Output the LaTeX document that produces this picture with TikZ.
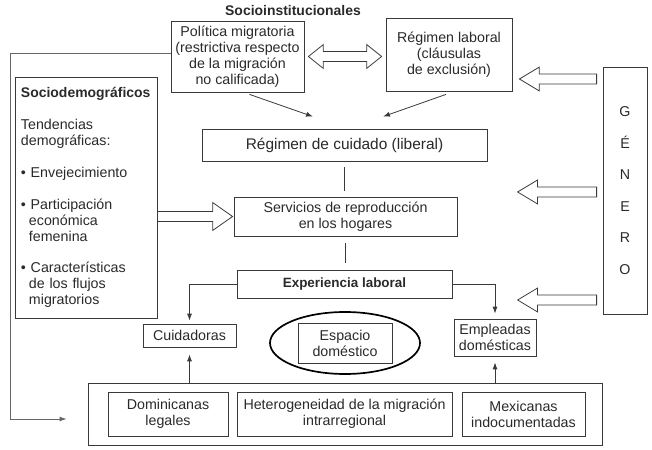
\documentclass[tikz,border=0pt]{standalone}
\usepackage{fontspec}
\setmainfont{Liberation Sans}
\usetikzlibrary{calc,arrows.meta,shapes.geometric}
\definecolor{ink}{HTML}{2A2A2A}
\definecolor{edge}{HTML}{3A3A3A}
\tikzset{
 box/.style={draw=edge, line width=0.8pt, text=ink, align=center, inner sep=0pt, font=\fontsize{14.3}{16}\selectfont},
 conn/.style={draw=edge, line width=0.8pt},
 arr/.style={conn, -{Latex[length=7pt,width=5pt]}},
 hollow/.style={draw=edge, line width=0.8pt, fill=white, line join=miter},
}
\newcommand\hollowL[2]{%
 \draw[hollow] let \p1=(#1), \p2=(#2) in
 (\x1,\y1+5pt) -- (\x2+20pt,\y1+5pt) -- (\x2+20pt,\y1+12pt) -- (\x2,\y1) --
 (\x2+20pt,\y1-12pt) -- (\x2+20pt,\y1-5pt) -- (\x1,\y1-5pt) -- cycle;}
\newcommand\hollowR[2]{%
 \draw[hollow] let \p1=(#1), \p2=(#2) in
 (\x1,\y1+5pt) -- (\x2-20pt,\y1+5pt) -- (\x2-20pt,\y1+14pt) -- (\x2,\y1) --
 (\x2-20pt,\y1-14pt) -- (\x2-20pt,\y1-5pt) -- (\x1,\y1-5pt) -- cycle;}
\newcommand\hollowLR[2]{%
 \draw[hollow] let \p1=(#1), \p2=(#2) in
 (\x1,\y1) -- (\x1+15pt,\y1+12pt) -- (\x1+15pt,\y1+5pt) -- (\x2-15pt,\y1+5pt) --
 (\x2-15pt,\y1+12pt) -- (\x2,\y1) -- (\x2-15pt,\y1-12pt) -- (\x2-15pt,\y1-5pt) --
 (\x1+15pt,\y1-5pt) -- (\x1+15pt,\y1-12pt) -- cycle;}
\begin{document}
\begin{tikzpicture}[x=1bp,y=-1bp]
\fill[white] (0,0) rectangle (652,450);
\useasboundingbox (0,0) rectangle (652,450);

\node[font=\bfseries\fontsize{14}{16}\selectfont, text=ink, inner sep=0pt] (title) at (293,11) {Socioinstitucionales};
\node[box, minimum width=133bp, minimum height=71bp] (pol) at (237.5,56.5) {Política migratoria\\(restrictiva respecto\\de la migración\\no calificada)};
\node[box, minimum width=126bp, minimum height=73bp] (lab) at (449,54.5) {Régimen laboral\\(cláusulas\\de exclusión)};
\node[box, minimum width=285bp, minimum height=32bp, font=\fontsize{15.5}{18}\selectfont] (cuid) at (344.5,145) {Régimen de cuidado (liberal)};
\node[box, minimum width=223bp, minimum height=39bp] (serv) at (345.5,216.5) {Servicios de reproducción\\en los hogares};
\node[box, minimum width=215bp, minimum height=28bp, font=\bfseries\fontsize{13.5}{16}\selectfont] (exp) at (344.5,284) {Experiencia laboral};
\node[box, minimum width=142bp, minimum height=241bp, text width=130bp, align=left] (socio) at (86,197.5) {{\bfseries\fontsize{14}{16}\selectfont Sociodemográficos}\\[16bp]Tendencias\\demográficas:\\[16bp]• Envejecimiento\\[16bp]• Participación\\\hspace*{8bp}económica\\\hspace*{8bp}femenina\\[16bp]• Características\\\hspace*{8bp}de los flujos\\\hspace*{8bp}migratorios};
\node[box, minimum width=44bp, minimum height=247bp, font=\fontsize{14.3}{31.6}\selectfont] (gen) at (625,190.5) {G\\É\\N\\E\\R\\O};

\node[box, minimum width=93bp, minimum height=23bp] (cui) at (189.5,335.5) {Cuidadoras};
\node[ellipse, draw=black, line width=1.7pt, minimum width=150bp, minimum height=62bp] (ell) at (345,343) {};
\node[box, minimum width=94bp, minimum height=40bp] (esp) at (345,343) {Espacio\\doméstico};
\node[box, minimum width=82bp, minimum height=37bp] (emp) at (495,337.5) {Empleadas\\domésticas};
\node[box, minimum width=514bp, minimum height=62bp] (bot) at (345,414) {};
\node[box, minimum width=120bp, minimum height=44bp] (dom) at (168,414) {Dominicanas\\legales};
\node[box, minimum width=215bp, minimum height=44bp] (het) at (344.5,414) {Heterogeneidad de la migración\\intrarregional};
\node[box, minimum width=123bp, minimum height=44bp] (mex) at (523.5,414) {Mexicanas\\indocumentadas};

% thin connectors
\draw[arr] ($(pol.south)+(12,2)$) -- ($(cuid.north)+(-31.5,-12)$);
\draw[arr] ($(lab.south)+(-3,3)$) -- ($(cuid.north)+(38.5,-12)$);
\draw[conn, shorten <=6bp, shorten >=6bp] (cuid.south) -- (cuid.south |- serv.north);
\draw[conn, shorten <=7bp, shorten >=7bp] (serv.south) -- (serv.south |- exp.north);
\draw[arr, shorten >=3bp] (exp.west) -| (cui.north);
\draw[arr, shorten >=5bp] (exp.east) -| (emp.north);
\draw[arr, shorten >=7bp] (cui.south |- bot.north) -- (cui.south);
\draw[arr, shorten >=6bp] (emp.south |- bot.north) -- (emp.south);

% long connector
\coordinate (p0) at ($(pol.west)+(0,-3)$);
\coordinate (lx) at (10,0);
\coordinate (lend) at ($(bot.west)+(-21,5)$);
\draw[arr, draw=gray!80!black, line width=1pt] (p0) -- (p0 -| lx) -- (lx |- lend) -- (lend);

% hollow arrows
\coordinate (g1t) at ($(gen.west)+(-6,-111.5)$);
\coordinate (g1h) at ($(lab.east)+(7,24.5)$);
\coordinate (g2t) at ($(gen.west)+(-6,1.5)$);
\coordinate (g2h) at ($(gen.west)+(-85,1.5)$);
\coordinate (g3t) at ($(gen.west)+(-6,109.5)$);
\coordinate (g3h) at ($(gen.west)+(-85,109.5)$);
\coordinate (s1t) at (socio.east |- serv.west);
\coordinate (s1h) at ($(serv.west)+(-1,0)$);
\coordinate (d1a) at ($(pol.east)+(4,0)$);
\coordinate (d1b) at ($(lab.west |- pol.east)+(-4,0)$);
\hollowL{g1t}{g1h}
\hollowL{g2t}{g2h}
\hollowL{g3t}{g3h}
\hollowR{s1t}{s1h}
\hollowLR{d1a}{d1b}
\end{tikzpicture}
\end{document}
